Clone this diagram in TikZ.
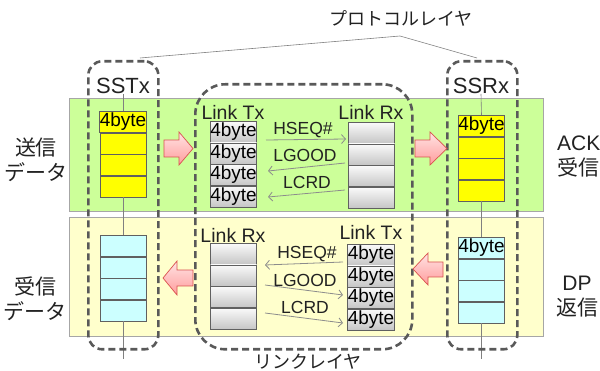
\documentclass[tikz,border=0pt]{standalone}
\usepackage{fontspec}
\setmainfont{Liberation Sans}
\newfontfamily\jp{Noto Sans CJK JP}
\usetikzlibrary{arrows.meta}
\definecolor{bandG}{HTML}{CCFF99}
\definecolor{bandY}{HTML}{FFFFCC}
\definecolor{cellY}{HTML}{FFFF00}
\definecolor{cellC}{HTML}{CCFFFF}
\definecolor{dashC}{HTML}{595959}
\definecolor{pinkT}{HTML}{FFE4E4}
\definecolor{pinkB}{HTML}{FF9C9C}
\definecolor{pinkD}{HTML}{D9534F}
\definecolor{txt}{HTML}{222222}
\tikzset{
 band/.style={draw=gray!70, line width=0.8pt, anchor=north west, inner sep=0},
 dbox/.style={draw=dashC, line width=2.6pt, dash pattern=on 7pt off 4pt, anchor=north west, inner sep=0},
 cellbase/.style={draw=gray!75!black, line width=0.6pt, minimum width=46pt, minimum height=21pt, inner sep=0, anchor=north, font=\fontsize{19}{19}\selectfont},
 ycell/.style={cellbase, fill=cellY},
 ccell/.style={cellbase, fill=cellC},
 gcell/.style={cellbase, top color=gray!4, bottom color=gray!45},
 lbl/.style={inner sep=0, text=txt, font=\fontsize{19.5}{19.5}\selectfont},
 big/.style={inner sep=0, text=txt, font=\fontsize{22}{22}\selectfont},
 sigl/.style={inner sep=0, text=txt, font=\fontsize{17.5}{17.5}\selectfont},
 jlbl/.style={inner sep=0, text=txt, align=center, font=\fontsize{21}{25}\selectfont},
 jtitle/.style={inner sep=0, text=txt, font=\jp\fontsize{18}{18}\selectfont},
 sig/.style={draw=gray!90, line width=0.8pt, -{Straight Barb[length=4pt,width=9pt]}},
 vline/.style={draw=gray, line width=0.6pt},
 barr/.style={draw=pinkD, line width=0.7pt, top color=pinkT, bottom color=pinkB, line join=miter},
}
\begin{document}
\begin{tikzpicture}[x=1pt,y=-1pt]
\useasboundingbox (0,0) rectangle (600,371);
% bands
\node[band, fill=bandG, minimum width=474pt, minimum height=113pt] (gband) at (69,98) {};
\node[band, fill=bandY, minimum width=474pt, minimum height=119pt] (yband) at (69,217) {};
% SSTx stacks
\node[big] (sstx) at (123,86) {SSTx};
\node[ycell] (a1) at (123,111) {4byte};
\node[ycell] (a2) at (a1.south) {};
\node[ycell] (a3) at (a2.south) {};
\node[ycell] (a4) at (a3.south) {};
\node[ccell] (b1) at (123,235) {};
\node[ccell] (b2) at (b1.south) {};
\node[ccell] (b3) at (b2.south) {};
\node[ccell] (b4) at (b3.south) {};
\coordinate (aend) at (123,359);
\draw[vline] (sstx.south) -- (a1.north);
\draw[vline] (a4.south) -- (b1.north);
\draw[vline] (b4.south) -- (aend);
% SSRx stacks
\node[big] (ssrx) at (481,86) {SSRx};
\node[ycell] (c1) at (481.5,115) {4byte};
\node[ycell] (c2) at (c1.south) {};
\node[ycell] (c3) at (c2.south) {};
\node[ycell] (c4) at (c3.south) {};
\node[ccell] (d1) at (481.5,237) {4byte};
\node[ccell] (d2) at (d1.south) {};
\node[ccell] (d3) at (d2.south) {};
\node[ccell] (d4) at (d3.south) {};
\coordinate (cend) at (481.5,359);
\draw[vline] (ssrx.south) -- (c1.north);
\draw[vline] (c4.south) -- (d1.north);
\draw[vline] (d4.south) -- (cend);
% Link layer top
\node[lbl] (ltx1) at (233,112) {Link Tx};
\node[gcell] (e1) at (233.5,121) {4byte};
\node[gcell] (e2) at (e1.south) {4byte};
\node[gcell] (e3) at (e2.south) {4byte};
\node[gcell] (e4) at (e3.south) {4byte};
\node[lbl] (lrx1) at (371,112) {Link Rx};
\node[gcell] (f1) at (371.5,122) {};
\node[gcell] (f2) at (f1.south) {};
\node[gcell] (f3) at (f2.south) {};
\node[gcell] (f4) at (f3.south) {};
% Link layer bottom
\node[lbl] (lrx2) at (233,235) {Link Rx};
\node[gcell] (g1) at (233.5,243) {};
\node[gcell] (g2) at (g1.south) {};
\node[gcell] (g3) at (g2.south) {};
\node[gcell] (g4) at (g3.south) {};
\node[lbl] (ltx2) at (371,232) {Link Tx};
\node[gcell] (h1) at (371,244) {4byte};
\node[gcell] (h2) at (h1.south) {4byte};
\node[gcell] (h3) at (h2.south) {4byte};
\node[gcell] (h4) at (h3.south) {4byte};
% signals top
\node[sigl] (s1) at (303,130) {HSEQ\#};
\node[sigl] (s2) at (305,155) {LGOOD};
\node[sigl] (s3) at (307,182) {LCRD};
\coordinate (p1a) at (266,140); \coordinate (p1b) at (346,139);
\coordinate (p2a) at (345,163); \coordinate (p2b) at (268,171);
\coordinate (p3a) at (345,190); \coordinate (p3b) at (268,197);
\draw[sig] (p1a) -- (p1b);
\draw[sig] (p2a) -- (p2b);
\draw[sig] (p3a) -- (p3b);
% signals bottom
\node[sigl] (t1) at (307,254) {HSEQ\#};
\node[sigl] (t2) at (305,280) {LGOOD};
\node[sigl] (t3) at (305,307) {LCRD};
\coordinate (q1a) at (343,262); \coordinate (q1b) at (265,265);
\coordinate (q2a) at (265,285); \coordinate (q2b) at (343,295);
\coordinate (q3a) at (265,313); \coordinate (q3b) at (343,323);
\draw[sig] (q1a) -- (q1b);
\draw[sig] (q2a) -- (q2b);
\draw[sig] (q3a) -- (q3b);
% dashed boxes
\node[dbox, minimum width=70pt, minimum height=288pt, rounded corners=14pt] (sstxbox) at (87,60) {};
\node[dbox, minimum width=70pt, minimum height=288pt, rounded corners=14pt] (ssrxbox) at (446,60) {};
\node[dbox, minimum width=217pt, minimum height=265pt, rounded corners=30pt] (linkbox) at (194,83) {};
% protocol bracket
\coordinate (br1) at (140,58);
\coordinate (br2) at (400,36);
\coordinate (br3) at (477,58);
\draw[gray, line width=0.6pt] (br1) -- (br2) -- (br3);
\node[jtitle] (proto) at (401,18) {プロトコルレイヤ};
\node[jtitle] (linkl) at (308,362) {リンクレイヤ};
% block arrows
\path[barr] (164,140) -- (179,140) -- (179,132) -- (193,148.5) -- (179,165) -- (179,157) -- (164,157) -- cycle;
\path[barr] (415,140) -- (430,140) -- (430,132) -- (447,148.5) -- (430,165) -- (430,157) -- (415,157) -- cycle;
\path[barr] (193,270) -- (177,270) -- (177,261) -- (163,278) -- (177,295) -- (177,286) -- (193,286) -- cycle;
\path[barr] (443,262) -- (428,262) -- (428,253) -- (413,269) -- (428,285) -- (428,277) -- (443,277) -- cycle;
% side labels
\node[jlbl, font=\jp\fontsize{21}{25}\selectfont] (sendd) at (36,160) {送信\\データ};
\node[jlbl, font=\jp\fontsize{21}{25}\selectfont] (recvd) at (35,299) {受信\\データ};
\node[jlbl, anchor=west, align=left, font=\fontsize{21}{25}\selectfont] (ackr) at (557,157) {ACK\\{\jp 受信}};
\node[jlbl, font=\fontsize{21}{25}\selectfont] (dpr) at (577,297) {DP\\{\jp 返信}};
\end{tikzpicture}
\end{document}
